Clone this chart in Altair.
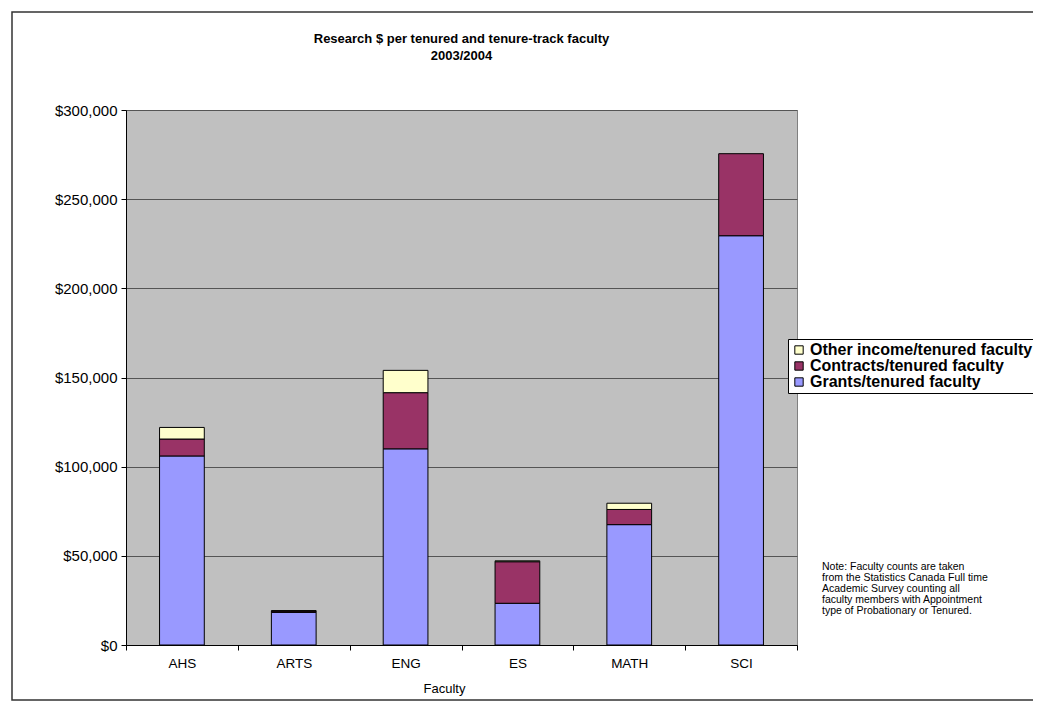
import altair as alt
import pandas as pd

faculties = ["AHS", "ARTS", "ENG", "ES", "MATH", "SCI"]
grants = [106000, 18300, 110000, 23400, 67500, 229500]
contracts = [9500, 700, 31500, 23300, 8500, 46000]
other = [6500, 300, 12500, 500, 3500, 0]

series_names = ["Other income/tenured faculty", "Contracts/tenured faculty", "Grants/tenured faculty"]
series_colors = ["#FFFFCC", "#993366", "#9999FF"]
stack_order = {"Grants/tenured faculty": 0, "Contracts/tenured faculty": 1, "Other income/tenured faculty": 2}

title_lines = ["Research $ per tenured and tenure-track faculty", "2003/2004"]
note_lines = [
    "Note: Faculty counts are taken",
    "from the Statistics Canada Full time",
    "Academic Survey counting all",
    "faculty members with Appointment",
    "type of Probationary or Tenured.",
]
y_ticks = [0, 50000, 100000, 150000, 200000, 250000, 300000]

rows = []
for i, f in enumerate(faculties):
    for name, vals in [("Grants/tenured faculty", grants),
                       ("Contracts/tenured faculty", contracts),
                       ("Other income/tenured faculty", other)]:
        if vals[i] > 0:
            rows.append({"Faculty": f, "Series": name, "Value": vals[i], "ord": stack_order[name]})
df = pd.DataFrame(rows)

FONT = "Liberation Sans"

bars = alt.Chart(df).mark_bar(
    width={"band": 0.4}, stroke="black", strokeWidth=1
).encode(
    x=alt.X("Faculty:N", sort=faculties,
            scale=alt.Scale(paddingInner=0, paddingOuter=0),
            axis=alt.Axis(title="Faculty", labelAngle=0, tickBand="extent",
                          domainColor="black", tickColor="black", tickSize=5,
                          labelPadding=6, labelFontSize=13.5, labelColor="black",
                          titleFontSize=13, titleFontWeight="normal", titleColor="black",
                          titlePadding=13, titleX=318, grid=False)),
    y=alt.Y("Value:Q", stack="zero",
            scale=alt.Scale(domain=[0, 300000], nice=False),
            axis=alt.Axis(title=None, values=y_ticks, format="$,.0f",
                          domainColor="black", tickColor="black", tickSize=5,
                          labelPadding=4, labelFontSize=15, labelColor="black",
                          grid=True, gridColor="#555555", gridWidth=1)),
    color=alt.Color("Series:N",
                    scale=alt.Scale(domain=series_names, range=series_colors),
                    legend=alt.Legend(title=None, orient="none", legendX=662, legendY=229,
                                      symbolType="square", symbolSize=70,
                                      symbolStrokeColor="black", symbolStrokeWidth=1,
                                      labelFont=FONT, labelFontSize=16, labelFontWeight="bold",
                                      labelColor="black", labelLimit=400,
                                      fillColor="white", strokeColor="black", padding=3,
                                      rowPadding=0, labelOffset=3)),
    order=alt.Order("ord:Q"),
)

one = pd.DataFrame({"a": [0]})
frame = alt.Chart(one).mark_rect(fillOpacity=0, stroke="#333333", strokeWidth=1.5).encode(
    x=alt.value(-114), x2=alt.value(930), y=alt.value(-98), y2=alt.value(590)
)

title_df = pd.DataFrame({"t": [title_lines]})
title = alt.Chart(title_df).mark_text(
    align="center", baseline="top", fontSize=13, fontWeight="bold", font=FONT,
    color="black", lineHeight=17
).encode(x=alt.value(335.5), y=alt.value(-77), text="t")

note_df = pd.DataFrame({"t": [note_lines]})
note = alt.Chart(note_df).mark_text(
    align="left", baseline="top", fontSize=10.5, font=FONT, color="black", lineHeight=11
).encode(x=alt.value(696), y=alt.value(452), text="t")

chart = alt.layer(frame, bars, title, note).properties(
    width=671, height=535,
    autosize=alt.AutoSizeParams(type="none"),
    padding={"left": 118, "top": 102, "right": 236, "bottom": 58},
).configure(font=FONT).configure_view(
    fill="#C0C0C0", stroke="#808080", strokeWidth=1
).configure_axis(labelFont=FONT, titleFont=FONT)

chart.save("out.html", embed_options={"renderer": "svg", "actions": False})
